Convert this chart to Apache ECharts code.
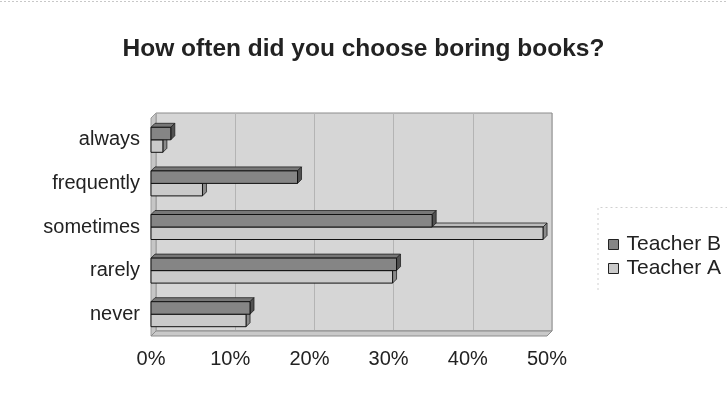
<!DOCTYPE html>
<html>
<head>
<meta charset="utf-8">
<script src="https://cdn.jsdelivr.net/npm/echarts@6/dist/echarts.min.js"></script>
<style>
  html, body { margin: 0; padding: 0; background: #fff; }
  #chart { width: 727px; height: 409px; }
</style>
</head>
<body>
<div id="chart"></div>
<script>
// Survey answers, top row first
const categories = ['always', 'frequently', 'sometimes', 'rarely', 'never'];
// Share of answers (%)
const teacherB = [2.5, 18.5, 35.5, 31, 12.5];
const teacherA = [1.5, 6.5, 49.5, 30.5, 12];

const FONT = '"Liberation Sans", Arial, sans-serif';
const DEPTH = 5;   // 3D extrusion of the plot box and bars
const BAR_H = 12.5;

const colB = { front: '#858585', top: '#777777', side: '#505050' };
const colA = { front: '#cacaca', top: '#bcbcbc', side: '#8a8a8a' };

function barRenderer(cols, above) {
  return function (params, api) {
    const v = api.value(0);
    const ci = api.value(1);
    const p0 = api.coord([0, ci]);
    const p1 = api.coord([v, ci]);
    const x0 = p0[0], x1 = p1[0];
    const y0 = above ? p0[1] - BAR_H : p0[1];
    const y1 = y0 + BAR_H;
    const d = DEPTH - 1;
    return {
      type: 'group',
      children: [
        { type: 'polygon', shape: { points: [[x0, y0], [x0 + d, y0 - d], [x1 + d, y0 - d], [x1, y0]] },
          style: { fill: cols.top, stroke: '#222', lineWidth: 0.8 } },
        { type: 'polygon', shape: { points: [[x1, y0], [x1 + d, y0 - d], [x1 + d, y1 - d], [x1, y1]] },
          style: { fill: cols.side, stroke: '#222', lineWidth: 0.8 } },
        { type: 'rect', shape: { x: x0, y: y0, width: x1 - x0, height: BAR_H },
          style: { fill: cols.front, stroke: '#111', lineWidth: 1 } }
      ]
    };
  };
}

const chart = echarts.init(document.getElementById('chart'), null, { renderer: 'canvas' });

// front plane of the plot box
const G = { left: 151, right: 180, top: 118, bottom: 73 };
const W = 727, H = 409;
const fx0 = G.left, fx1 = W - G.right, fy0 = G.top, fy1 = H - G.bottom;
const d = DEPTH;

chart.setOption({
  animation: false,
  backgroundColor: '#ffffff',
  title: {
    text: 'How often did you choose boring books?',
    left: 'center',
    top: 32,
    textStyle: { fontFamily: FONT, fontSize: 24.5, fontWeight: 'bold', color: '#222222' }
  },
  legend: {
    orient: 'vertical',
    left: 603,
    top: 229,
    itemWidth: 10,
    itemHeight: 10,
    itemGap: 3,
    icon: 'rect',
    data: [
      { name: 'Teacher B', itemStyle: { color: colB.front, borderColor: '#222', borderWidth: 1 } },
      { name: 'Teacher A', itemStyle: { color: colA.front, borderColor: '#222', borderWidth: 1 } }
    ],
    textStyle: { fontFamily: FONT, fontSize: 21, color: '#222222', padding: [0, 0, 0, 3] }
  },
  grid: [
    { left: G.left, right: G.right, top: G.top, bottom: G.bottom },
    { left: G.left + d, right: G.right - d, top: G.top - d, bottom: G.bottom + d,
      show: true, backgroundColor: '#d6d6d6', borderColor: '#8c8c8c', borderWidth: 1, z: 0 }
  ],
  xAxis: [
    { gridIndex: 0, type: 'value', min: 0, max: 50, interval: 10,
      axisLine: { show: false }, axisTick: { show: false }, splitLine: { show: false },
      axisLabel: { formatter: '{value}%', fontFamily: FONT, fontSize: 20, color: '#222222', margin: 13 } },
    { gridIndex: 1, type: 'value', min: 0, max: 50, interval: 10,
      axisLine: { show: false }, axisTick: { show: false }, axisLabel: { show: false },
      splitLine: { show: true, lineStyle: { color: '#b4b4b4', width: 1 } } }
  ],
  yAxis: [
    { gridIndex: 0, type: 'category', data: categories, inverse: true,
      axisLine: { show: false }, axisTick: { show: false },
      axisLabel: { fontFamily: FONT, fontSize: 20, color: '#222222', margin: 11 } },
    { gridIndex: 1, type: 'category', data: categories, inverse: true, show: false }
  ],
  graphic: [
    // left side wall
    { type: 'polygon', z: 1, silent: true,
      shape: { points: [[fx0, fy0], [fx0 + d, fy0 - d], [fx0 + d, fy1 - d], [fx0, fy1]] },
      style: { fill: '#c6c6c6', stroke: '#9a9a9a', lineWidth: 1 } },
    // floor
    { type: 'polygon', z: 1, silent: true,
      shape: { points: [[fx0, fy1], [fx0 + d, fy1 - d], [fx1 + d, fy1 - d], [fx1, fy1]] },
      style: { fill: '#c9c9c9', stroke: '#8c8c8c', lineWidth: 1 } },
    // frame line along the top of the page
    { type: 'line', z: 1, silent: true,
      shape: { x1: 0, y1: 1.5, x2: W, y2: 1.5 },
      style: { stroke: '#c8c8c8', lineWidth: 1, lineDash: [2, 2] } },
    // legend box edge
    { type: 'polyline', z: 1, silent: true,
      shape: { points: [[598, 290], [598, 207.5], [W, 207.5]] },
      style: { stroke: '#d0d0d0', lineWidth: 1, lineDash: [2, 3], fill: null } }
  ],
  series: [
    { name: 'Teacher A', type: 'custom', xAxisIndex: 0, yAxisIndex: 0, z: 3,
      itemStyle: { color: colA.front },
      renderItem: barRenderer(colA, false),
      encode: { x: 0, y: 1 },
      data: teacherA.map((v, i) => [v, i]) },
    { name: 'Teacher B', type: 'custom', xAxisIndex: 0, yAxisIndex: 0, z: 4,
      itemStyle: { color: colB.front },
      renderItem: barRenderer(colB, true),
      encode: { x: 0, y: 1 },
      data: teacherB.map((v, i) => [v, i]) }
  ]
});
</script>
</body>
</html>
